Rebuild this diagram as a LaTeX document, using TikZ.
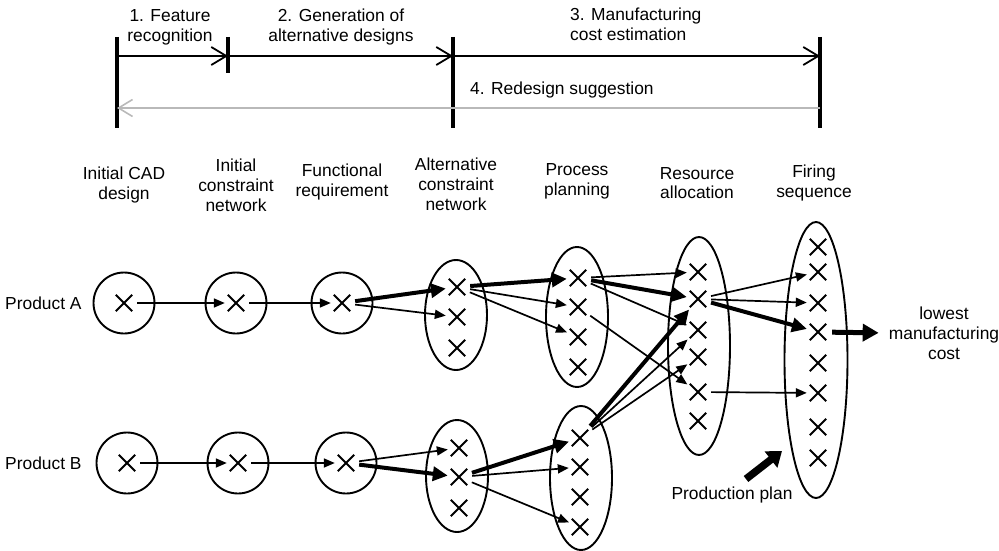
\documentclass[tikz,border=0pt]{standalone}
\usepackage{fontspec}
\setmainfont{Liberation Sans}
\usetikzlibrary{arrows.meta,shapes.misc,shapes.geometric}
\definecolor{backgray}{RGB}{185,185,185}
\begin{document}
\begin{tikzpicture}[x=1pt,y=-1pt,
  every node/.style={font=\fontsize{17.4}{19.8}\selectfont},
  lbl/.style={align=center,inner sep=0pt},
  xmark/.style={cross out,draw,line width=1.9pt,minimum width=14.5pt,minimum height=14.5pt,inner sep=0pt},
  ring/.style={circle,draw,line width=1.9pt,minimum size=61pt,inner sep=0pt},
  oval/.style={ellipse,draw,line width=1.9pt,inner sep=0pt,minimum width=62pt},
  thin link/.style={line width=1.7pt,-{Triangle[length=11pt,width=9pt]},shorten <=5pt,shorten >=3pt},
  bold link/.style={line width=4pt,-{Triangle[length=15pt,width=14pt]},shorten <=5pt,shorten >=3pt},
  phase bar/.style={line width=4pt},
  span/.style={line width=1.8pt,-{Straight Barb[length=15pt,width=18pt]}},
  back span/.style={line width=1.6pt,draw=backgray,-{Straight Barb[length=14pt,width=17pt]}}]
\useasboundingbox (0,0) rectangle (999,551);

% ---- phase timeline ----
\draw[phase bar] (117,37) -- (117,128);
\draw[phase bar] (228,37) -- (228,73);
\draw[phase bar] (453,37) -- (453,128);
\draw[phase bar] (820,37) -- (820,128);
\coordinate (t1) at (117,56);
\coordinate (t2) at (228,56);
\coordinate (t3) at (453,56);
\coordinate (t4) at (820,56);
\coordinate (g4) at (820,108);
\coordinate (g1) at (117,108);
\draw[span] (t1) -- (t2);
\draw[span] (t2) -- (t3);
\draw[span] (t3) -- (t4);
\draw[back span] (g4) -- (g1);

\node[lbl] (feat) at (170,27) {1. Feature\\recognition};
\node[lbl] (gen) at (341,27) {2. Generation of\\alternative designs};
\node[lbl,align=left,anchor=west] (manu) at (570,24) {3. Manufacturing\\cost estimation};
\node[lbl,anchor=west] (redesign) at (470,90) {4. Redesign suggestion};

% ---- column headings ----
\node[lbl] (hcad) at (124,185) {Initial CAD\\design};
\node[lbl] (hicn) at (236,185) {Initial\\constraint\\network};
\node[lbl] (hfr) at (342,182) {Functional\\requirement};
\node[lbl] (hacn) at (456,184) {Alternative\\constraint\\network};
\node[lbl] (hpp) at (577,181) {Process\\planning};
\node[lbl] (hra) at (697,183) {Resource\\allocation};
\node[lbl] (hfs) at (814,183) {Firing\\sequence};

\node[lbl,anchor=west] (prodA) at (5,303) {Product A};
\node[lbl,anchor=west] (prodB) at (5,463) {Product B};
\node[lbl] (lowest) at (944,333) {lowest\\manufacturing\\cost};
\node[lbl] (pplan) at (732,495) {Production plan};

% ---- product A chain ----
\node[ring] (cA1) at (124,303) {};
\node[ring] (cA2) at (236,303) {};
\node[ring] (cA3) at (342,303) {};
\node[xmark] (xA1) at (124,303) {};
\node[xmark] (xA2) at (236,303) {};
\node[xmark] (xA3) at (342,303) {};

% ---- product B chain ----
\node[ring] (cB1) at (127,463) {};
\node[ring] (cB2) at (238,463) {};
\node[ring] (cB3) at (346,463) {};
\node[xmark] (xB1) at (127,463) {};
\node[xmark] (xB2) at (238,463) {};
\node[xmark] (xB3) at (346,463) {};

% ---- alternative constraint networks ----
\node[oval,minimum height=110pt] (eAA) at (456,315) {};
\node[xmark] (aA1) at (457,287) {};
\node[xmark] (aA2) at (457,317) {};
\node[xmark] (aA3) at (457,348) {};

\node[oval,minimum height=112pt] (eAB) at (457,476) {};
\node[xmark] (aB1) at (459,448) {};
\node[xmark] (aB2) at (459,477) {};
\node[xmark] (aB3) at (459,508) {};

% ---- process plans ----
\node[oval,minimum height=140pt] (ePA) at (577,317) {};
\node[xmark] (pA1) at (578,278) {};
\node[xmark] (pA2) at (578,307) {};
\node[xmark] (pA3) at (578,337) {};
\node[xmark] (pA4) at (578,367) {};

\node[oval,minimum height=144pt] (ePB) at (581,478) {};
\node[xmark] (pB1) at (580,438) {};
\node[xmark] (pB2) at (580,467) {};
\node[xmark] (pB3) at (580,497) {};
\node[xmark] (pB4) at (580,527) {};

% ---- resource allocation ----
\node[oval,minimum height=218pt] (eRA) at (699,346) {};
\node[xmark] (r1) at (698,272) {};
\node[xmark] (r2) at (698,299) {};
\node[xmark] (r3) at (698,330) {};
\node[xmark] (r4) at (698,357) {};
\node[xmark] (r5) at (698,392) {};
\node[xmark] (r6) at (698,421) {};

% ---- firing sequence ----
\node[oval,minimum width=63pt,minimum height=276pt] (eFS) at (816,360) {};
\node[xmark] (f1) at (818,247) {};
\node[xmark] (f2) at (818,272) {};
\node[xmark] (f3) at (818,303) {};
\node[xmark] (f4) at (818,332) {};
\node[xmark] (f5) at (818,363) {};
\node[xmark] (f6) at (818,393) {};
\node[xmark] (f7) at (818,427) {};
\node[xmark] (f8) at (818,458) {};

% ---- links ----
\draw[thin link] (xA1) -- (xA2);
\draw[thin link] (xA2) -- (xA3);
\draw[thin link] (xB1) -- (xB2);
\draw[thin link] (xB2) -- (xB3);

\draw[bold link] (xA3) -- (aA1);
\draw[thin link] (xA3) -- (aA2);
\draw[bold link] (aA1) -- (pA1);
\draw[thin link] (aA1) -- (pA2);
\draw[thin link] (aA1) -- (pA3);
\draw[thin link] (pA1) -- (r1);
\draw[bold link] (pA1) -- (r2);
\draw[thin link] (pA1) -- (r3);
\draw[thin link] (pA2) -- (r5);

\draw[thin link] (xB3) -- (aB1);
\draw[bold link] (xB3) -- (aB2);
\draw[bold link] (aB2) -- (pB1);
\draw[thin link] (aB2) -- (pB2);
\draw[thin link] (aB2) -- (pB4);
\draw[bold link] (pB1) -- (r2);
\draw[thin link] (pB1) -- (r3);
\draw[thin link] (pB1) -- (r4);

\draw[thin link] (r2) -- (f2);
\draw[thin link] (r2) -- (f3);
\draw[bold link] (r2) -- (f4);
\draw[thin link] (r5) -- (f6);

\draw[bold link,line width=5pt,-{Triangle[length=16pt,width=17pt]},shorten <=6pt,shorten >=10pt] (f4) -- (lowest.west);

% ---- production plan pointer ----
\coordinate (ppTail) at (746,479);
\coordinate (ppHead) at (782,451);
\draw[line width=7.5pt,-{Triangle[length=14pt,width=20pt]}] (ppTail) -- (ppHead);
\end{tikzpicture}
\end{document}
